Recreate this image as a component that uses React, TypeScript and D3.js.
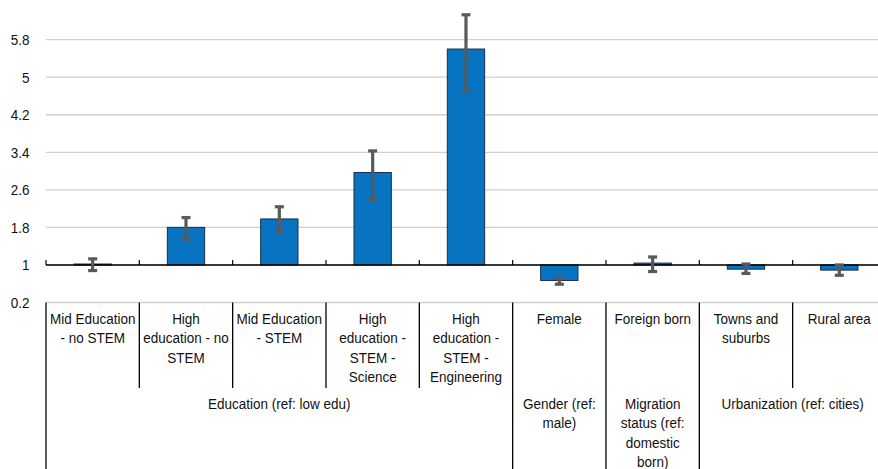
import React from "react";
import * as d3 from "d3";

// Odds ratios with confidence intervals by characteristic (reference = 1)
const categories: string[][] = [
  ["Mid Education", "- no STEM"],
  ["High", "education - no", "STEM"],
  ["Mid Education", "- STEM"],
  ["High", "education -", "STEM -", "Science"],
  ["High", "education -", "STEM -", "Engineering"],
  ["Female"],
  ["Foreign born"],
  ["Towns and", "suburbs"],
  ["Rural area"],
];
const oddsRatios = [1.02, 1.8, 1.98, 2.97, 5.6, 0.67, 1.04, 0.91, 0.89];
const ciLower = [0.88, 1.55, 1.7, 2.4, 4.71, 0.59, 0.86, 0.82, 0.78];
const ciUpper = [1.13, 2.01, 2.24, 3.43, 6.33, 0.75, 1.17, 1.02, 1.0];

// Grouping rows under the category labels
const groups: { label: string[]; start: number; end: number }[] = [
  { label: ["Education (ref: low edu)"], start: 0, end: 5 },
  { label: ["Gender (ref:", "male)"], start: 5, end: 6 },
  { label: ["Migration", "status (ref:", "domestic", "born)"], start: 6, end: 7 },
  { label: ["Urbanization (ref: cities)"], start: 7, end: 9 },
];
const yTicks = [0.2, 1, 1.8, 2.6, 3.4, 4.2, 5, 5.8];

const W = 878;
const H = 469;
const left = 46;
const band = 93.33;
const baseline = 1;

const FONT = "'Liberation Sans', Arial, sans-serif";
const FS = 13.5;
const STRETCH = 1.13;

function Label({ x, y, text, anchor = "middle" }: { x: number; y: number; text: string; anchor?: string }) {
  return (
    <g transform={`translate(${x},${y}) scale(1,${STRETCH})`}>
      <text x={0} y={0} textAnchor={anchor as any} fontFamily={FONT} fontSize={FS} fill="#111">
        {text}
      </text>
    </g>
  );
}

export default function App() {
  const x = d3
    .scaleBand<number>()
    .domain(d3.range(categories.length))
    .range([left, left + band * categories.length])
    .paddingInner(0)
    .paddingOuter(0);
  const y = d3.scaleLinear().domain([0.2, 6.6]).range([302.5, 2.1]);

  const barW = x.bandwidth() * 0.4;
  const y0 = y(baseline);
  const tableTop = y(0.2);
  const rowSplit = 388;
  const lineH = 19.3;
  const firstBase = 324;
  const groupBase = 409;

  // boundaries that separate groups run to the bottom; others stop at the category row
  const groupEdges = new Set(groups.map((g) => g.start).concat([categories.length]));

  return (
    <svg
      width={W}
      height={H}
      style={{ position: "absolute", left: 0, top: 0, background: "#fff" }}
    >
      {/* gridlines */}
      {yTicks.map((t) => (
        <line key={"g" + t} x1={left} x2={W} y1={y(t)} y2={y(t)} stroke="#d0d0d0" strokeWidth={1.3} />
      ))}
      {/* y tick labels */}
      {yTicks.map((t) => (
        <Label key={"t" + t} x={29.5} y={y(t) + 5.5} text={d3.format("")(t)} anchor="end" />
      ))}

      {/* bars */}
      {oddsRatios.map((v, i) => {
        const cx = (x(i) as number) + x.bandwidth() / 2;
        const top = Math.min(y(v), y0);
        const h = Math.abs(y(v) - y0);
        return (
          <rect
            key={"b" + i}
            x={cx - barW / 2}
            y={top}
            width={barW}
            height={Math.max(h, 1)}
            fill="#0874C1"
            stroke="#1a2d44"
            strokeWidth={1}
          />
        );
      })}

      {/* category axis at the reference value */}
      <line x1={left} x2={W} y1={y0} y2={y0} stroke="#000" strokeWidth={1.5} />
      {d3.range(categories.length + 1).map((i) => {
        const bx = left + band * i;
        return <line key={"k" + i} x1={bx} x2={bx} y1={y0 - 5} y2={y0} stroke="#000" strokeWidth={1.2} />;
      })}

      {/* confidence intervals */}
      {oddsRatios.map((_, i) => {
        const cx = (x(i) as number) + x.bandwidth() / 2;
        const yl = y(ciLower[i]);
        const yu = y(ciUpper[i]);
        return (
          <g key={"e" + i} stroke="#595959" strokeWidth={3.2}>
            <line x1={cx} x2={cx} y1={yu} y2={yl} />
            <line x1={cx - 4.5} x2={cx + 4.5} y1={yu} y2={yu} />
            <line x1={cx - 4.5} x2={cx + 4.5} y1={yl} y2={yl} />
          </g>
        );
      })}

      {/* label table */}
      {d3.range(categories.length + 1).map((i) => {
        const bx = left + band * i;
        const full = i === 0 || groupEdges.has(i);
        return (
          <line
            key={"s" + i}
            x1={bx}
            x2={bx}
            y1={tableTop}
            y2={full ? H : rowSplit}
            stroke="#000"
            strokeWidth={1.3}
          />
        );
      })}
      {categories.map((lines, i) => {
        const cx = (x(i) as number) + x.bandwidth() / 2;
        return lines.map((s, j) => <Label key={`c${i}-${j}`} x={cx} y={firstBase + j * lineH} text={s} />);
      })}
      {groups.map((g, gi) => {
        const cx = left + band * ((g.start + g.end) / 2);
        return g.label.map((s, j) => <Label key={`gl${gi}-${j}`} x={cx} y={groupBase + j * lineH} text={s} />);
      })}
    </svg>
  );
}
